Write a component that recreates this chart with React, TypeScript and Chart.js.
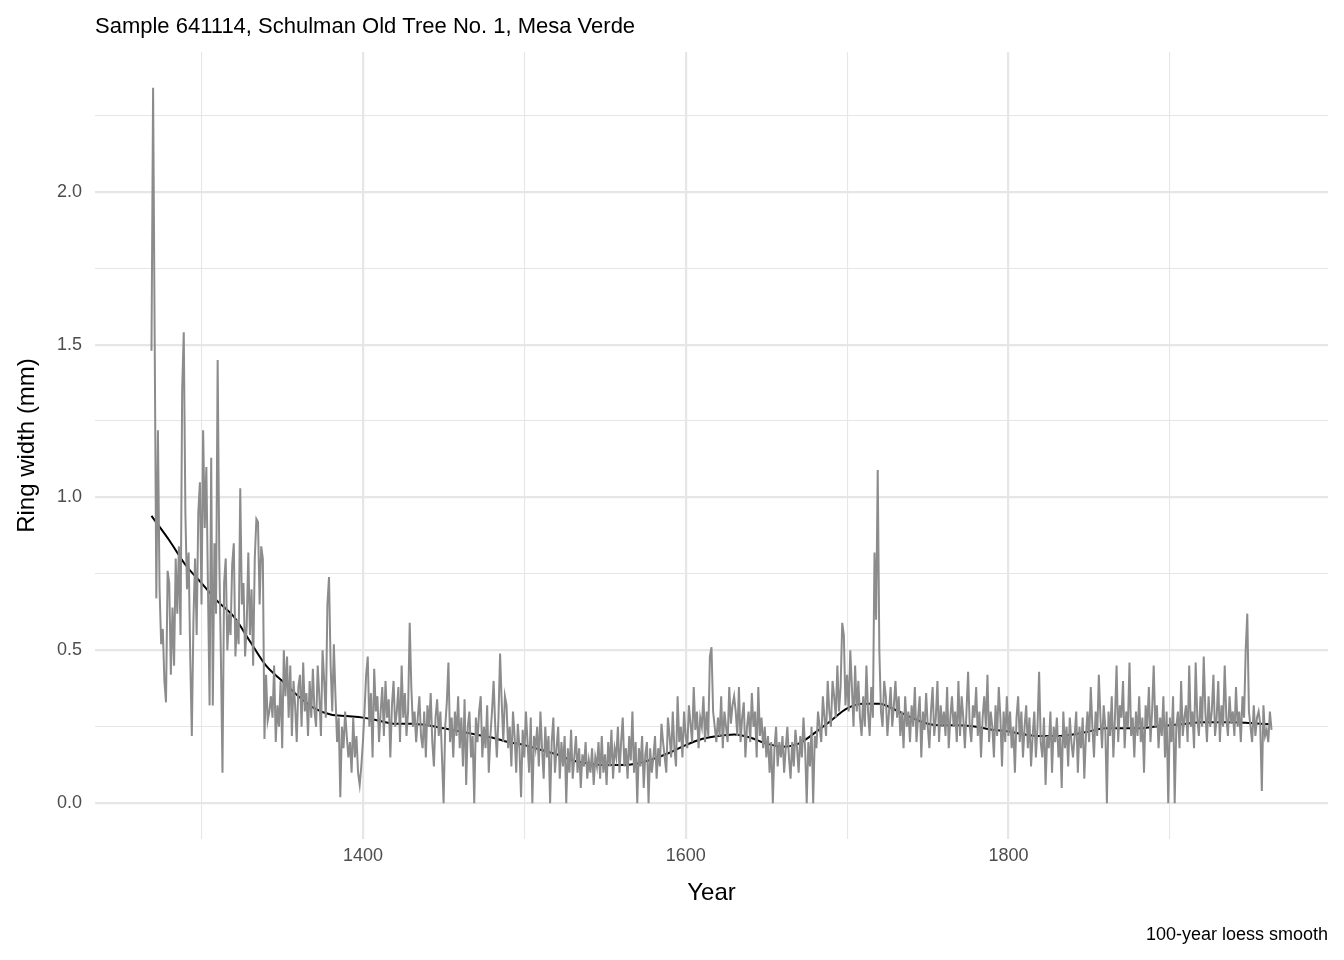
import React, { useEffect, useRef } from "react";
import { Chart, registerables } from "chart.js";
Chart.register(...registerables);

const startYear = 1269;
const ringWidth = [1.48,
2.34,1.50,0.67,1.22,0.70,0.52,0.57,0.40,0.33,0.76,
0.72,0.42,0.64,0.45,0.80,0.62,0.84,0.55,1.35,1.54,
0.95,0.70,0.82,0.48,0.22,0.60,0.80,0.55,0.95,1.05,
0.65,1.22,0.90,1.10,0.70,0.32,1.13,0.32,0.85,0.62,
1.45,0.80,0.48,0.10,0.72,0.80,0.50,0.62,0.55,0.78,
0.85,0.48,0.60,0.52,1.03,0.65,0.72,0.48,0.58,0.82,
0.55,0.70,0.45,0.80,0.93,0.92,0.65,0.84,0.80,0.21,
0.42,0.27,0.30,0.35,0.28,0.45,0.20,0.32,0.25,0.40,
0.18,0.50,0.35,0.48,0.28,0.45,0.22,0.40,0.32,0.20,
0.38,0.42,0.25,0.46,0.30,0.36,0.22,0.40,0.28,0.44,
0.30,0.25,0.45,0.35,0.22,0.50,0.40,0.28,0.65,0.74,
0.45,0.30,0.52,0.35,0.20,0.28,0.02,0.25,0.18,0.30,
0.22,0.15,0.20,0.10,0.28,0.15,0.22,0.10,0.06,0.12,
0.20,0.30,0.42,0.48,0.25,0.36,0.15,0.44,0.30,0.35,
0.20,0.30,0.38,0.22,0.40,0.28,0.34,0.15,0.32,0.40,
0.25,0.30,0.38,0.20,0.45,0.28,0.36,0.22,0.30,0.59,
0.38,0.25,0.30,0.20,0.28,0.35,0.22,0.18,0.30,0.15,
0.32,0.25,0.36,0.20,0.12,0.28,0.34,0.22,0.30,0.15,
0.00,0.25,0.33,0.46,0.20,0.28,0.15,0.30,0.22,0.35,
0.18,0.28,0.12,0.34,0.06,0.25,0.30,0.15,0.22,0.00,
0.28,0.20,0.30,0.35,0.15,0.25,0.18,0.32,0.10,0.22,
0.30,0.40,0.25,0.15,0.28,0.49,0.33,0.20,0.35,0.32,
0.18,0.25,0.12,0.30,0.22,0.10,0.26,0.18,0.02,0.24,
0.15,0.30,0.20,0.10,0.28,0.00,0.22,0.18,0.25,0.12,
0.30,0.18,0.08,0.25,0.15,0.22,0.00,0.20,0.28,0.10,
0.18,0.25,0.08,0.20,0.12,0.22,0.00,0.18,0.10,0.24,
0.08,0.15,0.22,0.10,0.18,0.05,0.16,0.12,0.20,0.08,
0.14,0.10,0.18,0.06,0.15,0.12,0.20,0.08,0.22,0.10,
0.16,0.06,0.20,0.12,0.24,0.08,0.18,0.15,0.25,0.10,
0.20,0.28,0.12,0.18,0.08,0.22,0.14,0.30,0.10,0.20,
0.00,0.18,0.12,0.22,0.05,0.16,0.20,0.00,0.18,0.10,
0.15,0.22,0.08,0.18,0.12,0.26,0.20,0.15,0.10,0.28,
0.22,0.15,0.30,0.18,0.12,0.35,0.20,0.25,0.15,0.30,
0.22,0.18,0.32,0.26,0.20,0.38,0.24,0.30,0.18,0.28,
0.25,0.35,0.20,0.30,0.22,0.48,0.51,0.30,0.25,0.20,
0.28,0.22,0.35,0.18,0.30,0.25,0.20,0.38,0.26,0.32,
0.35,0.30,0.22,0.38,0.20,0.28,0.33,0.15,0.25,0.30,
0.20,0.36,0.25,0.30,0.15,0.38,0.22,0.28,0.18,0.25,
0.15,0.22,0.10,0.20,0.00,0.18,0.25,0.12,0.20,0.15,
0.22,0.10,0.18,0.25,0.15,0.08,0.20,0.12,0.24,0.18,
0.10,0.22,0.15,0.28,0.18,0.00,0.20,0.12,0.25,0.00,
0.22,0.18,0.30,0.25,0.20,0.35,0.28,0.22,0.40,0.30,
0.25,0.40,0.35,0.28,0.45,0.30,0.38,0.59,0.55,0.32,
0.42,0.30,0.50,0.38,0.25,0.45,0.30,0.40,0.28,0.22,
0.35,0.25,0.45,0.30,0.22,0.38,0.28,0.82,0.60,1.09,
0.50,0.30,0.25,0.40,0.35,0.22,0.30,0.38,0.25,0.32,
0.40,0.28,0.35,0.22,0.30,0.18,0.35,0.25,0.30,0.20,
0.32,0.25,0.38,0.20,0.28,0.35,0.15,0.30,0.24,0.36,
0.25,0.18,0.30,0.38,0.22,0.28,0.40,0.20,0.32,0.25,
0.30,0.22,0.38,0.18,0.28,0.35,0.25,0.30,0.20,0.40,
0.22,0.35,0.28,0.18,0.30,0.43,0.25,0.20,0.32,0.28,
0.38,0.22,0.30,0.15,0.28,0.35,0.25,0.42,0.20,0.30,
0.25,0.15,0.32,0.22,0.38,0.28,0.12,0.30,0.20,0.35,
0.22,0.30,0.18,0.25,0.10,0.28,0.35,0.20,0.30,0.15,
0.25,0.32,0.18,0.28,0.12,0.22,0.30,0.15,0.25,0.43,
0.20,0.15,0.28,0.06,0.22,0.18,0.30,0.10,0.25,0.20,
0.28,0.15,0.22,0.05,0.30,0.18,0.25,0.12,0.28,0.20,
0.15,0.22,0.30,0.10,0.25,0.18,0.28,0.08,0.22,0.30,
0.20,0.38,0.25,0.15,0.30,0.22,0.42,0.28,0.18,0.32,
0.25,0.00,0.30,0.22,0.35,0.15,0.28,0.45,0.20,0.32,
0.28,0.40,0.18,0.30,0.25,0.46,0.22,0.28,0.15,0.30,
0.22,0.35,0.20,0.28,0.10,0.32,0.25,0.38,0.20,0.30,
0.45,0.25,0.32,0.18,0.28,0.22,0.35,0.15,0.30,0.00,
0.28,0.20,0.35,0.00,0.25,0.30,0.18,0.40,0.22,0.28,
0.32,0.20,0.45,0.25,0.30,0.18,0.46,0.28,0.22,0.35,
0.25,0.48,0.30,0.20,0.35,0.25,0.30,0.42,0.22,0.28,
0.40,0.20,0.32,0.25,0.45,0.28,0.22,0.35,0.26,0.30,
0.22,0.38,0.25,0.30,0.20,0.35,0.28,0.50,0.62,0.30,
0.25,0.20,0.32,0.22,0.28,0.30,0.26,0.04,0.32,0.22,
0.24,0.20,0.30,0.24];

const smoothYears = [1269,1280,1290,1300,1310,1320,1330,1340,1350,1360,1370,1380,1390,1400,1410,1420,1430,1440,1450,1460,1470,1480,1490,1500,1510,1520,1530,1540,1550,1560,1570,1580,1590,1600,1610,1620,1630,1640,1650,1660,1670,1680,1690,1700,1710,1720,1730,1740,1750,1760,1770,1780,1790,1800,1810,1820,1830,1840,1850,1860,1870,1880,1890,1900,1910,1920,1930,1940,1950,1963];
const smoothValues = [0.94,0.86,0.78,0.72,0.66,0.61,0.53,0.45,0.40,0.35,0.31,0.29,0.285,0.28,0.27,0.26,0.26,0.255,0.245,0.235,0.225,0.215,0.2,0.19,0.175,0.16,0.14,0.13,0.125,0.125,0.13,0.145,0.165,0.19,0.21,0.22,0.225,0.215,0.195,0.185,0.195,0.23,0.27,0.31,0.325,0.325,0.305,0.28,0.26,0.255,0.255,0.25,0.24,0.235,0.225,0.22,0.22,0.225,0.235,0.245,0.245,0.245,0.25,0.255,0.26,0.265,0.265,0.265,0.262,0.258];

const xTicks = [1300, 1400, 1500, 1600, 1700, 1800, 1900];
const xLabels = [1400, 1600, 1800];
const yTicks = [0, 0.25, 0.5, 0.75, 1, 1.25, 1.5, 1.75, 2, 2.25];

const FONT = "'Liberation Sans', Arial, sans-serif";

export default function App() {
  const ref = useRef<HTMLCanvasElement>(null);
  useEffect(() => {
    document.body.style.margin = "0";
    const textPlugin = {
      id: "texts",
      afterDraw(chart: any) {
        const ctx = chart.ctx;
        const a = chart.chartArea;
        ctx.save();
        ctx.fillStyle = "#000";
        ctx.font = `22px ${FONT}`;
        ctx.textAlign = "left";
        ctx.textBaseline = "middle";
        ctx.fillText("Sample 641114, Schulman Old Tree No. 1, Mesa Verde", a.left, 27);
        ctx.font = `24px ${FONT}`;
        ctx.textAlign = "center";
        ctx.fillText("Year", (a.left + a.right) / 2, 893);
        ctx.save();
        ctx.translate(27, (a.top + a.bottom) / 2);
        ctx.rotate(-Math.PI / 2);
        ctx.fillText("Ring width (mm)", 0, 0);
        ctx.restore();
        ctx.font = `18px ${FONT}`;
        ctx.textAlign = "right";
        ctx.fillText("100-year loess smooth", a.right, 935);
        ctx.restore();
      },
    };
    const chart = new Chart(ref.current!, {
      type: "line",
      data: {
        datasets: [
          {
            data: ringWidth.map((v, i) => ({ x: startYear + i, y: v })),
            borderColor: "#8c8c8c",
            borderWidth: 2,
            pointRadius: 0,
            tension: 0,
          },
          {
            data: smoothYears.map((y, i) => ({ x: y, y: smoothValues[i] })),
            borderColor: "#000",
            borderWidth: 2,
            pointRadius: 0,
            cubicInterpolationMode: "monotone",
          },
        ],
      },
      options: {
        animation: false,
        responsive: false,
        layout: { padding: { left: 0, right: 16, top: 52, bottom: 0 } },
        plugins: { legend: { display: false }, tooltip: { enabled: false } },
        scales: {
          x: {
            type: "linear",
            min: 1234,
            max: 1998,
            afterFit: (s: any) => { s.height = 121; },
            afterBuildTicks: (s: any) => { s.ticks = xTicks.map((v) => ({ value: v })); },
            border: { display: false },
            grid: {
              drawTicks: false,
              color: "#e6e6e6",
              lineWidth: (c: any) => (xLabels.includes(c.tick?.value) ? 2.2 : 1.1),
            },
            ticks: {
              padding: 6,
              color: "#4d4d4d",
              font: { size: 18, family: FONT },
              callback: (v: any) => (xLabels.includes(v) ? String(v) : ""),
            },
          },
          y: {
            min: -0.117,
            max: 2.457,
            afterFit: (s: any) => { s.width = 95; },
            afterBuildTicks: (s: any) => { s.ticks = yTicks.map((v) => ({ value: v })); },
            border: { display: false },
            grid: {
              drawTicks: false,
              color: "#e6e6e6",
              lineWidth: (c: any) => (Math.abs((c.tick?.value ?? 0) % 0.5) < 1e-9 ? 2.2 : 1.1),
            },
            ticks: {
              padding: 13,
              color: "#4d4d4d",
              font: { size: 18, family: FONT },
              callback: (v: any) => (Math.abs(v % 0.5) < 1e-9 ? Number(v).toFixed(1) : ""),
            },
          },
        },
      },
      plugins: [textPlugin],
    } as any);
    return () => chart.destroy();
  }, []);
  return <canvas ref={ref} width={1344} height={960} style={{ display: "block" }} />;
}
